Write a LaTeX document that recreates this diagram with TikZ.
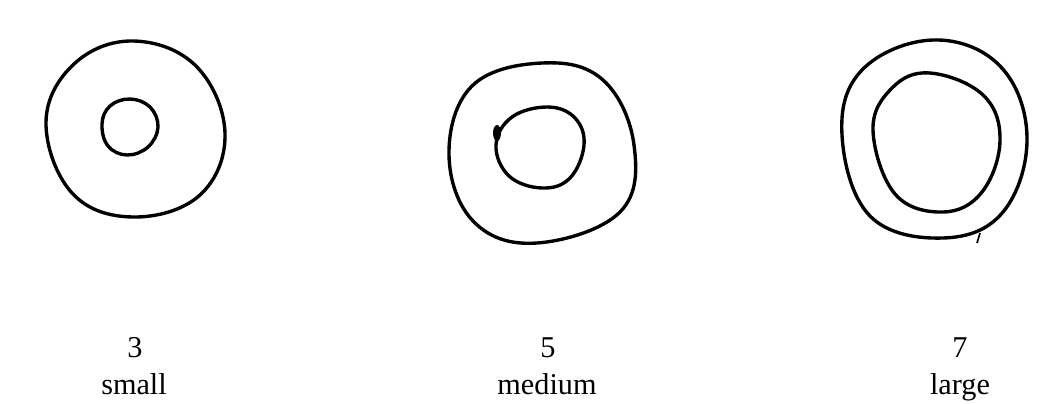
\documentclass[tikz,border=0pt]{standalone}
\usepackage{fontspec}
\setmainfont{Liberation Serif}
\begin{document}
\begin{tikzpicture}[x=0.025cm,y=-0.025cm,ring/.style={line width=2.4pt,line join=round},lbl/.style={anchor=base,inner sep=0pt,font=\fontsize{21.5}{25}\selectfont}]
        \useasboundingbox (0,0) rectangle (1062,403);
        % small
        \draw[ring] plot[smooth cycle,tension=0.66] coordinates {(133,41) (196,66) (225,133) (200,195) (133,217) (72,193) (46,122) (74,64)};
        \draw[ring] plot[smooth cycle,tension=0.66] coordinates {(130,99) (150,107) (158,127) (148,147) (127,155) (108,146) (102,124) (110,106)};
        % medium
        \draw[ring] plot[smooth cycle,tension=0.66] coordinates {(542,63) (603,80) (634,145) (620,212) (537,243) (474,222) (449,155) (472,86)};
        \draw[ring] plot[smooth cycle,tension=0.66] coordinates {(548,107) (575,118) (584,145) (570,178) (542,188) (509,176) (496,145) (512,117)};
        \fill (497,133) ellipse (4 and 8);
        % large
        \draw[ring] plot[smooth cycle,tension=0.66] coordinates {(933,40) (1000,66) (1027,137) (1003,212) (943,238) (870,216) (842,135) (862,70)};
        \draw[ring] plot[smooth cycle,tension=0.66] coordinates {(930,73) (983,95) (1000,140) (982,192) (943,212) (895,194) (873,130) (892,88)};
        \draw[line width=1.2pt] (980,233) -- (977,243);

        \node (nsmall) [lbl] at (135,357) {3};
        \node (small) [lbl] at (134,394) {small};
        \node (nmedium) [lbl] at (548,357) {5};
        \node (medium) [lbl] at (547,394) {medium};
        \node (nlarge) [lbl] at (960,357) {7};
        \node (large) [lbl] at (960,394) {large};
    \end{tikzpicture}
\end{document}
